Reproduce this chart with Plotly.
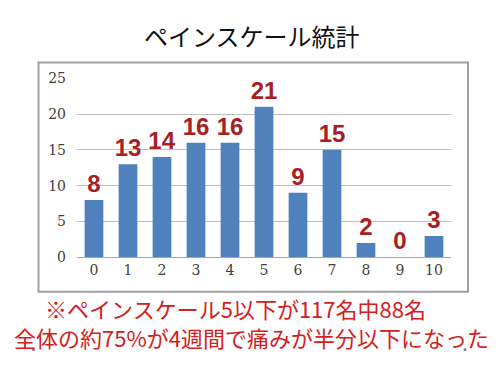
import plotly.graph_objects as go

categories = ["0", "1", "2", "3", "4", "5", "6", "7", "8", "9", "10"]
counts = [8, 13, 14, 16, 16, 21, 9, 15, 2, 0, 3]
y_ticks = [0, 5, 10, 15, 20, 25]
title_text = "ペインスケール統計"
note_line1 = "※ペインスケール5以下が117名中88名"
note_line2 = "全体の約75%が4週間で痛みが半分以下になった"

W, H = 500, 375

def px_x(p):
    return p / W

def px_y(p):
    return (H - p) / H

fig = go.Figure()
fig.add_trace(go.Bar(
    x=categories, y=counts,
    marker=dict(color="#4f81bd", line=dict(width=0)),
    width=0.55,
    text=[str(c) for c in counts],
    textposition="outside",
    constraintext="none",
    textangle=0,
    cliponaxis=False,
    hoverinfo="skip",
    textfont=dict(family="Liberation Sans Narrow, Arial Narrow, sans-serif",
                  size=24, color="#a8201f", weight="bold"),
))

fig.update_layout(
    width=W, height=H,
    margin=dict(l=0, r=0, t=0, b=0),
    paper_bgcolor="white", plot_bgcolor="white",
    showlegend=False,
    hovermode=False,
    xaxis=dict(domain=[px_x(77), px_x(451)], type="category",
               showgrid=False, showline=True, linecolor="#a6a6a6", linewidth=1,
               ticks="", tickfont=dict(family="DejaVu Serif, Liberation Serif, serif",
                                      size=14, color="#404040")),
    yaxis=dict(domain=[px_y(260.5), px_y(73.3)], range=[0, 25],
               tickvals=y_ticks, showgrid=True, gridcolor="#bfbfbf", gridwidth=1,
               zeroline=False, showline=False, ticks="",
               ticklabelstandoff=10,
               tickfont=dict(family="DejaVu Serif, Liberation Serif, serif",
                             size=14, color="#404040")),
    font=dict(family="Noto Sans CJK JP"),
)

# chart frame
fig.add_shape(type="rect", xref="paper", yref="paper",
              x0=px_x(38.5), x1=px_x(468), y0=px_y(296.5), y1=px_y(57),
              line=dict(color="#a0a0a0", width=2), layer="below")

# title
fig.add_annotation(text=title_text, xref="paper", yref="paper",
                   x=px_x(252), y=px_y(29), showarrow=False,
                   xanchor="center", yanchor="middle",
                   font=dict(family="Noto Sans CJK JP", size=24, color="#111111"))

# notes (two lines in one text box; trailing blanks shift line 1 left)
fig.add_annotation(text=note_line1 + "\u3000\u00a0\u00a0" + "<br>" + note_line2,
                   xref="paper", yref="paper",
                   x=px_x(251), y=px_y(328.5), showarrow=False, borderpad=0,
                   xanchor="center", yanchor="middle", align="center",
                   font=dict(family="Noto Sans CJK JP", size=22, color="#d42020"))

# small handle dots
for cx in (33.5, 465):
    fig.add_shape(type="circle", xref="paper", yref="paper",
                  x0=px_x(cx - 1.5), x1=px_x(cx + 1.5),
                  y0=px_y(358.5), y1=px_y(355.5),
                  fillcolor="#808080", line=dict(width=0))

fig.write_html("out.html", config={"displayModeBar": False},
               post_script="document.body.style.margin='0';")
